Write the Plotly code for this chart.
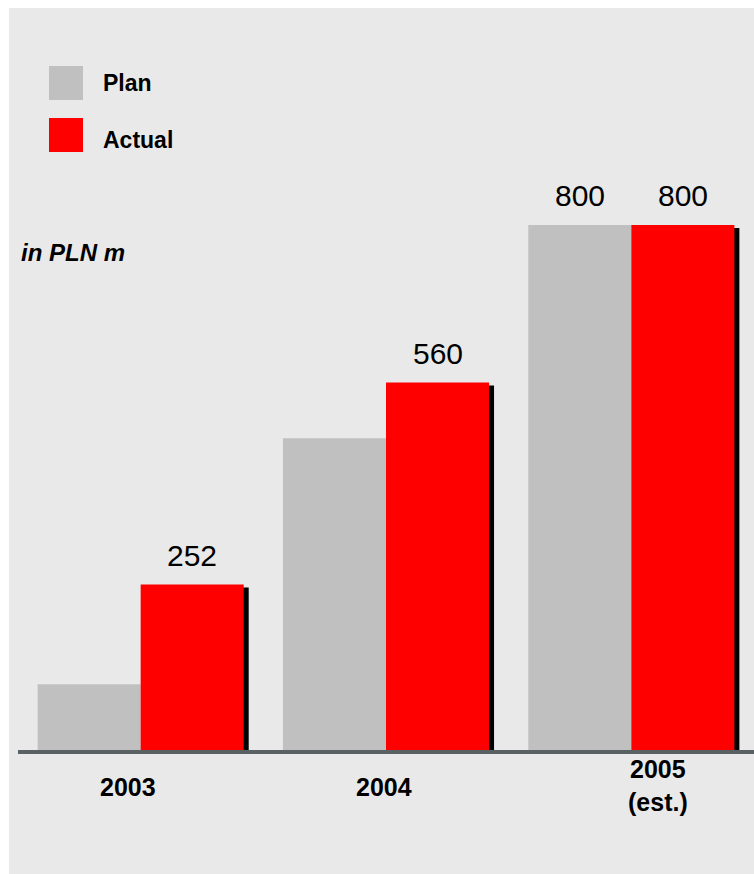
import plotly.graph_objects as go

# Data
years = ["2003", "2004", "2005"]
year_labels = ["2003", "2004", "2005<br>(est.)"]
plan = [100, 475, 800]
actual = [252, 560, 800]
plan_labels = ["", "", "800"]
actual_labels = ["252", "560", "800"]

# Canvas / layout geometry
W, H = 754, 874
ML, MR, MT, MB = 18, 0, 28, 124
PW, PH = W - ML - MR, H - MT - MB
YMAX = 1100
BAR_W = 0.42

GRAY_BG = "#e9e9e9"
PLAN_C = "#c0c0c0"
ACT_C = "#ff0000"
AXIS_C = "#5a6163"
FONT = "Liberation Sans, Arial, sans-serif"

px_x = PW / len(years)      # pixels per category unit
px_y = PH / YMAX            # pixels per value unit


def px(x, y):
    """Pixel position on the page -> paper coordinates."""
    return (x - ML) / PW, (H - MB - y) / PH


fig = go.Figure()

# drop shadow behind the actual bars
fig.add_trace(go.Bar(
    x=years, y=[v - 3 / px_y for v in actual],
    width=BAR_W, offset=5 / px_x, marker=dict(color="#000000", line_width=0),
    hoverinfo="skip", showlegend=False,
))
fig.add_trace(go.Bar(
    x=years, y=plan, name="Plan",
    width=BAR_W, offset=-BAR_W, marker=dict(color=PLAN_C, line_width=0),
    showlegend=False,
))
fig.add_trace(go.Bar(
    x=years, y=actual, name="Actual",
    width=BAR_W, offset=0, marker=dict(color=ACT_C, line_width=0),
    showlegend=False,
))

annotations = []

# value labels above the bars
for i, yr in enumerate(years):
    for vals, labels, shift in ((plan, plan_labels, -BAR_W / 2), (actual, actual_labels, BAR_W / 2)):
        if labels[i]:
            annotations.append(dict(
                x=i + shift, y=vals[i], xref="x", yref="y",
                text=labels[i], showarrow=False, yanchor="middle", xanchor="center",
                yshift=29, font=dict(family=FONT, size=30, color="#000000"),
            ))

# category labels under the axis
label_xshift = [-13, -2, 27]
label_yshift = [-21, -21, -3]
for i, lab in enumerate(year_labels):
    annotations.append(dict(
        x=i, y=0, xref="x", yref="y", text=f"<b>{lab}</b>", showarrow=False,
        xanchor="center", yanchor="top", xshift=label_xshift[i], yshift=label_yshift[i],
        font=dict(family=FONT, size=25, color="#000000"),
    ))

# unit note
ux, uy = px(19, 252)
annotations.append(dict(
    x=ux, y=uy, xref="paper", yref="paper", text="<b><i>in PLN m</i></b>",
    showarrow=False, xanchor="left", yanchor="middle",
    font=dict(family=FONT, size=24, color="#000000"),
))

shapes = []
# grey panel
x0, y0 = px(9, H)
x1, y1 = px(W, 8)
shapes.append(dict(type="rect", xref="paper", yref="paper", x0=x0, y0=y0, x1=x1, y1=y1,
                   fillcolor=GRAY_BG, line_width=0, layer="below"))

# legend
for name, color, top, text_y in (("Plan", PLAN_C, 66, 83), ("Actual", ACT_C, 118, 140)):
    a, b = px(49, top + 34)
    c, d = px(83, top)
    shapes.append(dict(type="rect", xref="paper", yref="paper", x0=a, y0=b, x1=c, y1=d,
                       fillcolor=color, line_width=0))
    tx, ty = px(101, text_y)
    annotations.append(dict(
        x=tx, y=ty, xref="paper", yref="paper", text=f"<b>{name}</b>", showarrow=False,
        xanchor="left", yanchor="middle", font=dict(family=FONT, size=23, color="#000000"),
    ))

fig.update_layout(
    width=W, height=H,
    margin=dict(l=ML, r=MR, t=MT, b=MB),
    paper_bgcolor="#ffffff", plot_bgcolor="rgba(0,0,0,0)",
    barmode="overlay", showlegend=False,
    xaxis=dict(type="category", range=[-0.5, 2.5], showticklabels=False, ticks="",
               showgrid=False, zeroline=False, showline=True, linecolor=AXIS_C, linewidth=4),
    yaxis=dict(range=[0, YMAX], visible=False, showgrid=False, zeroline=False),
    annotations=annotations, shapes=shapes,
)

fig.write_html("out.html")
